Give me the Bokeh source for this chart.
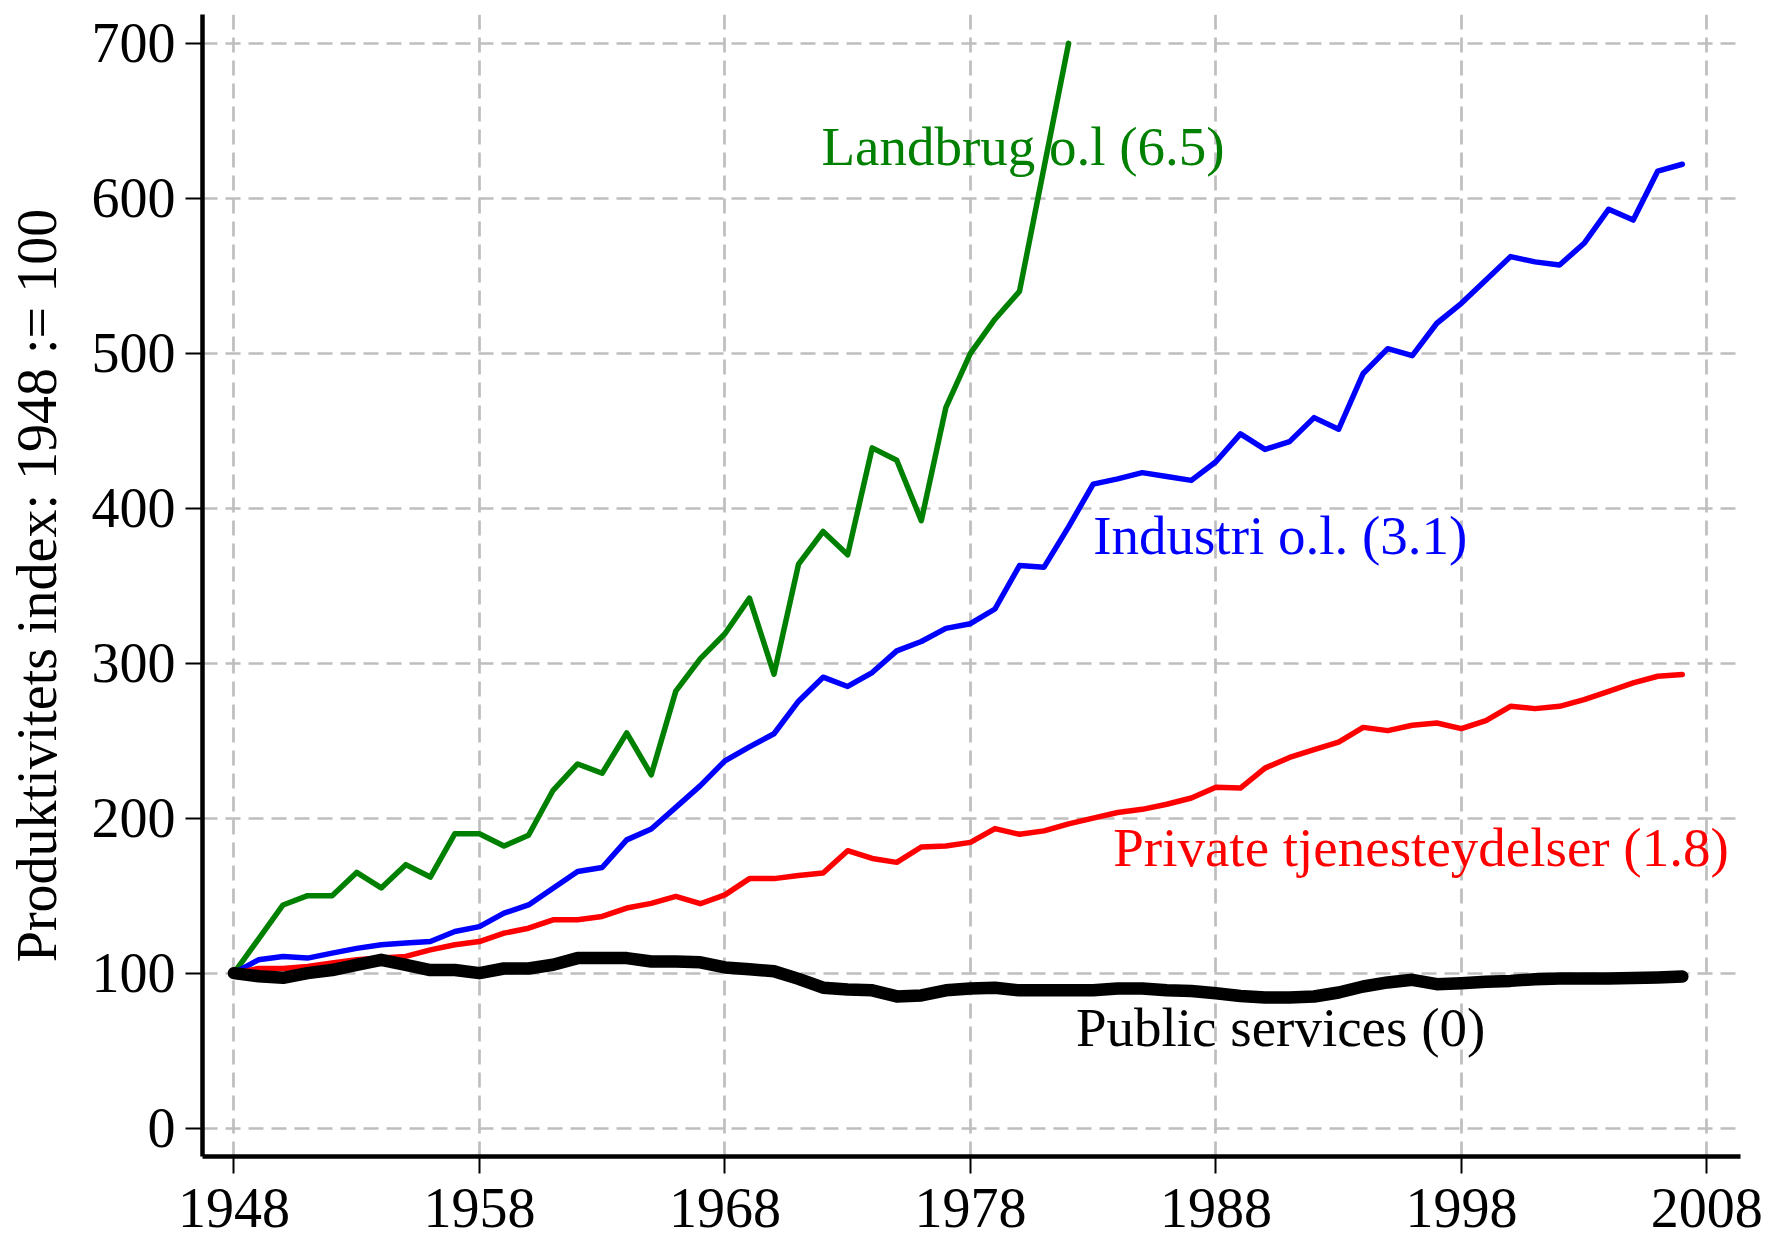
from bokeh.plotting import figure
from bokeh.models import FixedTicker, Range1d, Label
from bokeh.core.properties import value
from bokeh.embed import file_html
from bokeh.resources import INLINE

# ---------------- data ----------------
years = list(range(1948, 2008))
years_landbrug = list(range(1948, 1983))

landbrug = [100, 122, 144, 150, 150, 165, 155, 170, 162, 190,
            190, 182, 189, 218, 235, 229, 255, 228, 282, 303,
            319, 342, 293, 364, 385, 370, 439, 431, 392, 465,
            500, 522, 540, 620, 700]

industri = [100, 108.6, 110.8, 109.7, 112.9, 116, 118.3, 119.4, 120.4, 126.9,
            130, 138.7, 144, 154.8, 165.6, 168.2, 186, 193, 207, 221,
            237, 246, 254.5, 275.5, 291, 285, 294, 308, 314, 322.5,
            325.5, 335, 363, 362, 388, 415.6, 419, 423, 420.5, 418,
            430, 448, 438, 443, 458.5, 451, 487, 503, 498.5, 519.4,
            532.3, 547.3, 562.4, 559, 557, 571, 593, 586, 617.6, 622]

private = [100, 103, 103, 104.3, 106.5, 108.6, 109.7, 110.8, 115, 118.3,
           120.4, 125.8, 129, 134.4, 134.4, 136.6, 142, 145, 149.5, 144.8,
           150.5, 161, 161, 163, 164.6, 179, 174, 171.5, 181.4, 182,
           184.4, 193.3, 189.6, 191.8, 196.3, 200, 203.7, 205.7, 209, 213,
           220, 219.4, 232.3, 239.2, 244.2, 249.1, 258.6, 256.5, 260, 261.4,
           257.8, 263, 272.2, 270.7, 272.2, 276.5, 281.9, 287.3, 291.6, 292.7]

public = [100, 98, 97, 100, 102, 105.4, 108.6, 105.4, 102, 102,
          100, 103, 103, 105.4, 109.7, 109.7, 109.7, 107.5, 107.5, 107,
          103.7, 102.5, 101.2, 96.3, 90.6, 89.4, 88.9, 85, 85.6, 88.9,
          90.1, 90.6, 88.9, 88.9, 88.9, 88.9, 90.1, 90.1, 88.9, 88.5,
          87, 85.3, 84.3, 84.3, 84.9, 87.5, 91.4, 94, 95.7, 92.9,
          93.5, 94.4, 95, 96.1, 96.6, 96.6, 96.6, 96.8, 97.2, 97.8]

x_ticks = [1948, 1958, 1968, 1978, 1988, 1998, 2008]
y_ticks = [0, 100, 200, 300, 400, 500, 600, 700]

label_texts = ["Landbrug o.l (6.5)", "Industri o.l. (3.1)",
               "Private tjenesteydelser (1.8)", "Public services (0)"]
label_x = [1971.93, 1983.0, 1983.82, 1982.3]
label_y = [633.6, 382.6, 181.1, 64.9]
label_colors = ["#008000", "#0000ff", "#ff0000", "#000000"]

# ---------------- figure ----------------
p = figure(width=1768, height=1239, output_backend="svg", toolbar_location=None,
           title=None,
           x_range=Range1d(1946.72, 2009.37), y_range=Range1d(-18.33, 718.65),
           min_border_left=202, min_border_right=28,
           min_border_top=14, min_border_bottom=83)
p.outline_line_color = None
p.background_fill_color = "white"
p.border_fill_color = "white"

for ax in (p.xaxis[0], p.yaxis[0]):
    ax.axis_line_width = 4.5
    ax.axis_line_color = "black"
    ax.major_tick_line_width = 2
    ax.major_tick_line_color = "black"
    ax.major_tick_in = 0
    ax.major_tick_out = 17
    ax.minor_tick_line_color = None
    ax.major_label_text_font = "Liberation Serif"
    ax.major_label_text_font_size = "56px"
    ax.major_label_text_color = "black"

p.xaxis.ticker = FixedTicker(ticks=x_ticks)
p.yaxis.ticker = FixedTicker(ticks=y_ticks)
p.xaxis.major_label_standoff = 15
p.yaxis.major_label_standoff = 10
p.yaxis.axis_label = "Produktivitets index: 1948 := 100"
p.yaxis.axis_label_text_font = "Liberation Serif"
p.yaxis.axis_label_text_font_size = "56px"
p.yaxis.axis_label_text_font_style = "normal"
p.yaxis.axis_label_text_color = "black"
p.yaxis.axis_label_standoff = 21

p.grid.grid_line_color = "#bebebe"
p.grid.grid_line_width = 2.7
p.grid.grid_line_dash = "15 8"

# series labels (drawn under the lines)
for t, x, y, c in zip(label_texts, label_x, label_y, label_colors):
    p.text(x=[x], y=[y], text=[t], text_color=c,
           text_font=value("Liberation Serif"), text_font_size=value("55px"),
           text_align="left", text_baseline="middle")

p.line(years_landbrug, landbrug, line_color="#008000", line_width=5.5,
       line_join="round", line_cap="round")
p.line(years, industri, line_color="#0000ff", line_width=5.5,
       line_join="round", line_cap="round")
p.line(years, private, line_color="#ff0000", line_width=5.5,
       line_join="round", line_cap="round")
p.line(years, public, line_color="#000000", line_width=12.5,
       line_join="round", line_cap="round")

# slide page number
p.add_layout(Label(x=2007.66, y=-61.6, text="35", text_color="#8a8a8a",
                   text_font="Liberation Sans", text_font_size="29px",
                   text_align="center", text_baseline="middle"))

open("out.html", "w").write(file_html(p, INLINE))
